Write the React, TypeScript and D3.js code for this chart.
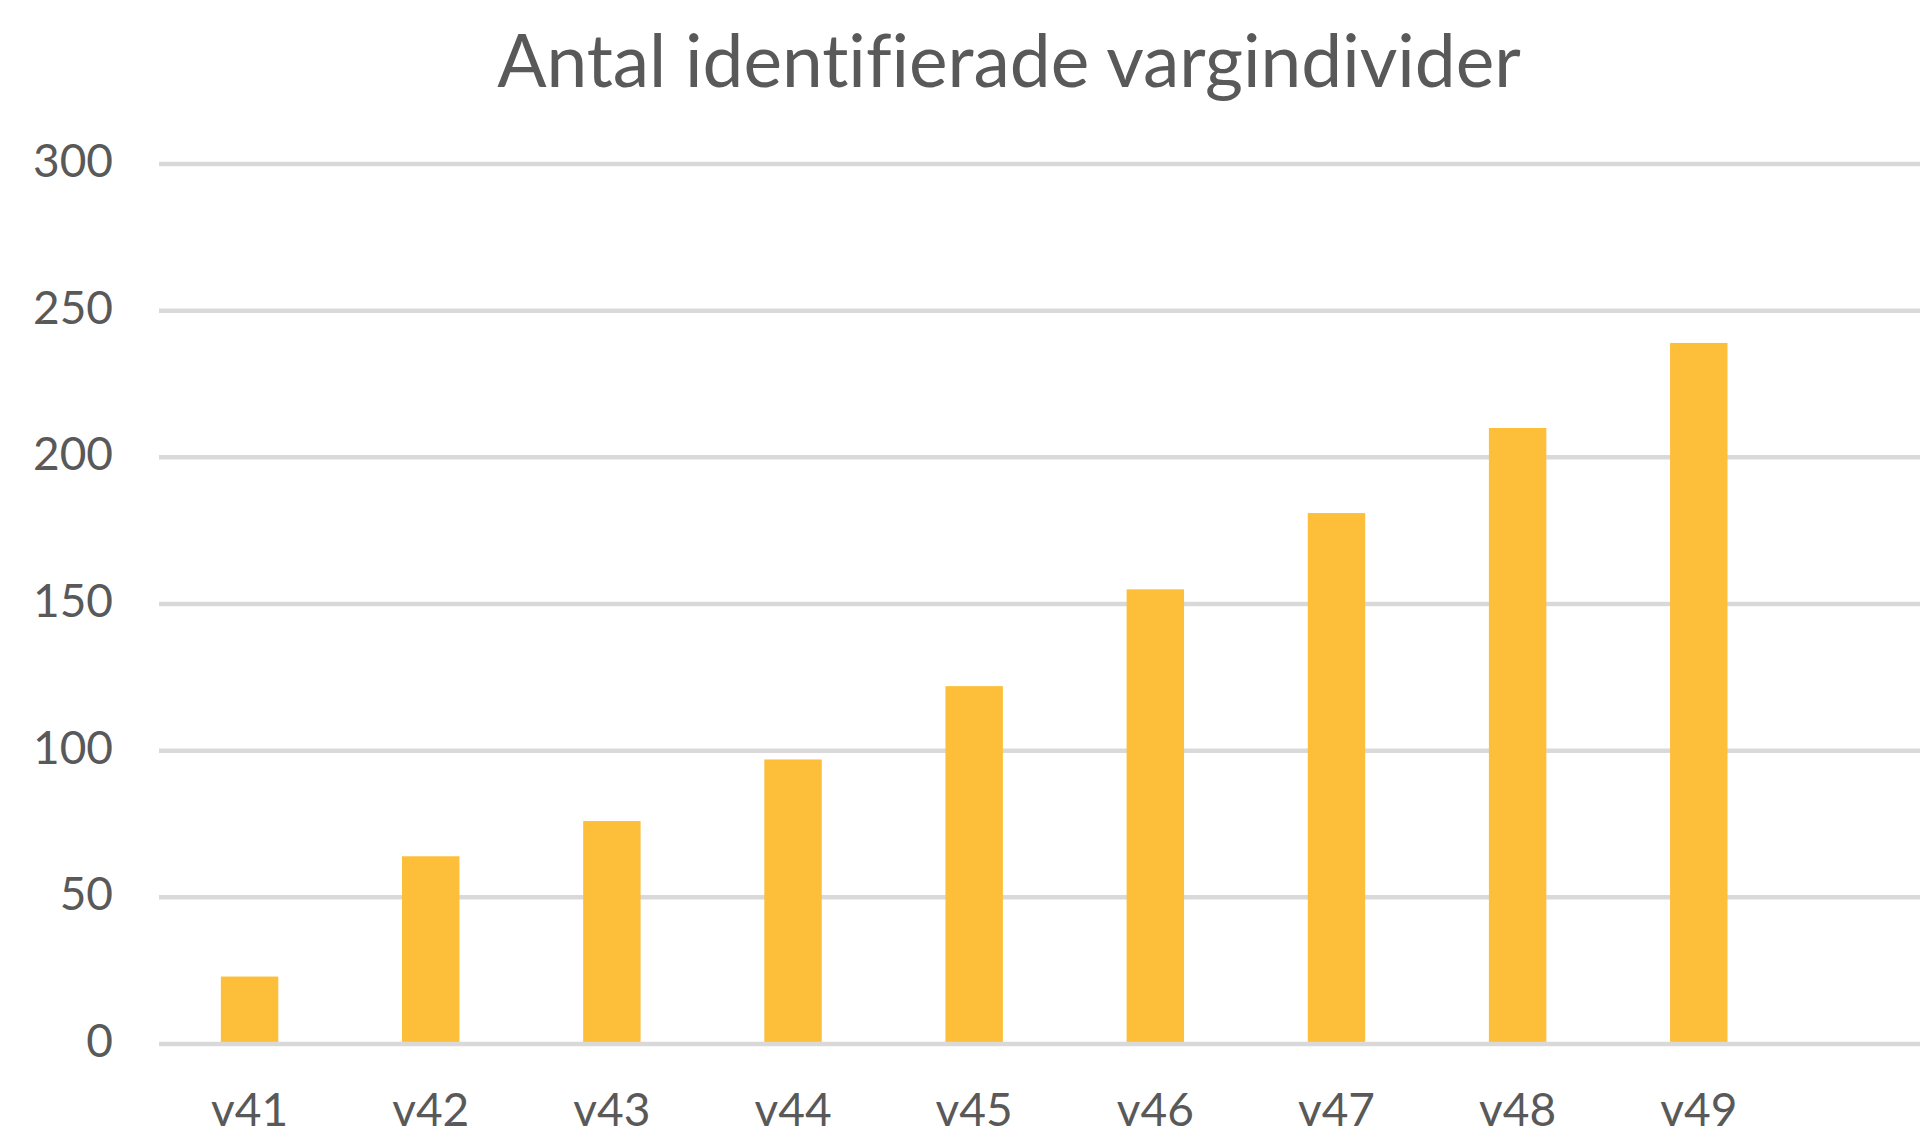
import { useEffect, useRef } from 'react';
import * as d3 from 'd3';

const WIDTH = 1920;
const HEIGHT = 1142;

const TITLE = 'Antal identifierade vargindivider';
const weeks = ['v41', 'v42', 'v43', 'v44', 'v45', 'v46', 'v47', 'v48', 'v49'];
const individuals = [23, 64, 76, 97, 122, 155, 181, 210, 239];
const yTicks = [0, 50, 100, 150, 200, 250, 300];

const TEXT_COLOR = '#595959';
const GRID_COLOR = '#d9d9d9';
const BAR_COLOR = '#fdbf3a';
const FONT = 'Lato, "Open Sans", sans-serif';

export default function App() {
  const svgRef = useRef<SVGSVGElement>(null);

  useEffect(() => {
    if (!svgRef.current) return;
    document.body.style.margin = '0';

    const svg = d3.select(svgRef.current);
    svg.selectAll('*').remove();

    const left = 159;
    const step = 181.15;
    const x = d3
      .scaleBand<string>()
      .domain(weeks)
      .range([left, left + step * weeks.length])
      .paddingInner(0.683)
      .paddingOuter(0.683 / 2);

    const y = d3.scaleLinear().domain([0, 300]).range([1044, 164]);

    // rutnät
    svg
      .append('g')
      .selectAll('line')
      .data(yTicks.filter((t) => t !== 0))
      .join('line')
      .attr('x1', left)
      .attr('x2', WIDTH)
      .attr('y1', (d) => y(d))
      .attr('y2', (d) => y(d))
      .attr('stroke', GRID_COLOR)
      .attr('stroke-width', 4.5);

    svg
      .append('g')
      .selectAll('rect')
      .data(individuals)
      .join('rect')
      .attr('x', (_, i) => x(weeks[i]) as number)
      .attr('width', x.bandwidth())
      .attr('y', (d) => y(d))
      .attr('height', (d) => y(0) - y(d))
      .attr('fill', BAR_COLOR);

    // nollinjen ovanpå staplarna
    svg
      .append('line')
      .attr('x1', left)
      .attr('x2', WIDTH)
      .attr('y1', y(0))
      .attr('y2', y(0))
      .attr('stroke', GRID_COLOR)
      .attr('stroke-width', 4.5);

    svg
      .append('g')
      .selectAll('text')
      .data(yTicks)
      .join('text')
      .attr('x', 113)
      .attr('y', (d) => y(d) + 13)
      .attr('text-anchor', 'end')
      .attr('fill', TEXT_COLOR)
      .style('font-family', FONT)
      .style('font-size', '46px')
      .text((d) => d);

    svg
      .append('g')
      .selectAll('text')
      .data(weeks)
      .join('text')
      .attr('x', (d) => (x(d) as number) + x.bandwidth() / 2)
      .attr('y', 1126)
      .attr('text-anchor', 'middle')
      .attr('fill', TEXT_COLOR)
      .style('font-family', FONT)
      .style('font-size', '46px')
      .text((d) => d);

    svg
      .append('text')
      .attr('x', 1009)
      .attr('y', 87)
      .attr('text-anchor', 'middle')
      .attr('fill', TEXT_COLOR)
      .style('font-family', FONT)
      .style('font-size', '73px')
      .style('font-variant-ligatures', 'none')
      .text(TITLE);
  }, []);

  return <svg ref={svgRef} width={WIDTH} height={HEIGHT} style={{ display: 'block', background: '#fff' }} />;
}
